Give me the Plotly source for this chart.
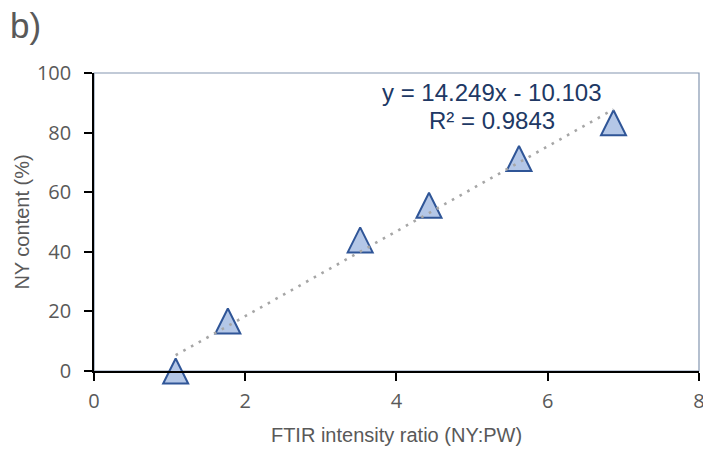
import plotly.graph_objects as go

# Data
ratio = [1.08, 1.77, 3.52, 4.43, 5.62, 6.87]
ny_content = [0.0, 16.8, 44.0, 55.6, 71.3, 83.3]
slope = 14.249
intercept = -10.103
r2 = 0.9843
x_ticks = [0, 2, 4, 6, 8]
y_ticks = [0, 20, 40, 60, 80, 100]

trend_x = [min(ratio), max(ratio)]
trend_y = [slope * v + intercept for v in trend_x]

MSIZE = 25

fig = go.Figure()
fig.add_trace(go.Scatter(
    x=ratio, y=ny_content, mode="markers", cliponaxis=False,
    marker=dict(symbol="arrow-down", angle=180, standoff=MSIZE / 2, size=MSIZE,
                color="#b4c7e7", line=dict(color="#2f5597", width=2)),
    showlegend=False,
))
fig.add_trace(go.Scatter(
    x=trend_x, y=trend_y, mode="lines", cliponaxis=False,
    line=dict(color="#a6a6a6", width=2.6, dash="2.6px,6.2px"),
    showlegend=False,
))

tickfont = dict(family="Open Sans", size=20, color="#595959")
titlefont = dict(family="Liberation Sans", size=20, color="#595959")

fig.update_layout(
    width=703, height=450,
    margin=dict(l=94, r=4, t=73, b=79, autoexpand=False),
    paper_bgcolor="white", plot_bgcolor="white",
    xaxis=dict(range=[0, 8.0005], tickvals=x_ticks, showgrid=False, zeroline=False,
               automargin=False,
               showline=True, linecolor="black", linewidth=1.6,
               ticks="outside", ticklen=8, tickcolor="black", tickwidth=1.6,
               tickfont=tickfont, ticklabelstandoff=3, ticklabeloverflow="allow",
               title=dict(text="FTIR intensity ratio (NY:PW)", font=titlefont, standoff=15)),
    yaxis=dict(range=[0, 100], tickvals=y_ticks, showgrid=False, zeroline=False,
               automargin=False,
               showline=True, linecolor="black", linewidth=1.6,
               ticks="outside", ticklen=8, tickcolor="black", tickwidth=1.6,
               tickfont=tickfont, ticklabelstandoff=9, ticklabeloverflow="allow",
               title=dict(text="NY content (%)", font=titlefont, standoff=2)),
    shapes=[dict(type="rect", xref="paper", yref="paper", x0=0, x1=1, y0=0, y1=1,
                 line=dict(color="#8496b0", width=1.2), layer="below")],
    annotations=[
        dict(text=f"y = {slope}x - {abs(intercept)}", xref="paper", yref="paper",
             x=0.658, y=0.933, xanchor="center", yanchor="middle", showarrow=False,
             font=dict(family="Liberation Sans", size=24, color="#203864")),
        dict(text=f"R² = {r2}", xref="paper", yref="paper",
             x=0.658, y=0.842, xanchor="center", yanchor="middle", showarrow=False,
             font=dict(family="Liberation Sans", size=24, color="#203864")),
        dict(text="b)", xref="paper", yref="paper", x=-0.142, y=1.16,
             xanchor="left", yanchor="middle", showarrow=False,
             font=dict(family="Liberation Sans", size=35, color="#595959")),
    ],
)

fig.write_html("out.html")
